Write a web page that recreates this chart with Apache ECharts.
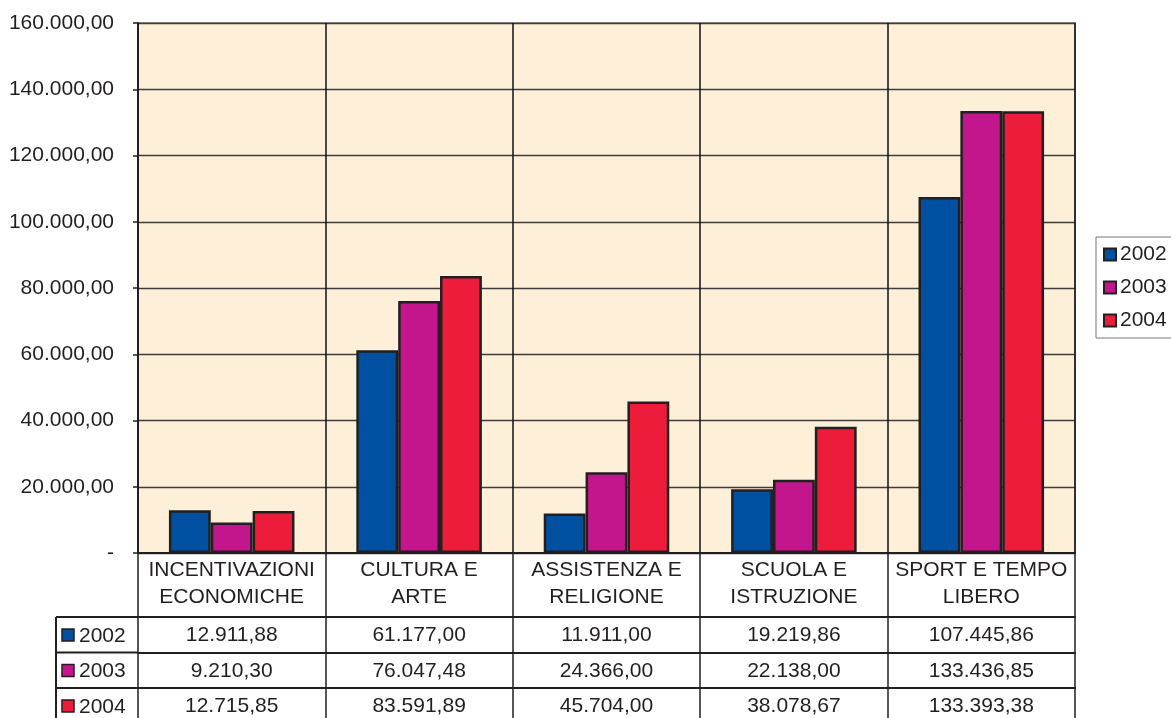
<!DOCTYPE html>
<html>
<head>
<meta charset="utf-8">
<script src="https://cdn.jsdelivr.net/npm/echarts@6/dist/echarts.min.js"></script>
<style>
    html, body {margin: 0; padding: 0; background: #fff;}
    #main {width: 1171px; height: 718px;}
</style>
</head>
<body>
<div id="main"></div>
<script>
// dati del grafico
var categories = ['INCENTIVAZIONI\nECONOMICHE', 'CULTURA E\nARTE', 'ASSISTENZA E\nRELIGIONE', 'SCUOLA E\nISTRUZIONE', 'SPORT E TEMPO\nLIBERO'];
var years = ['2002', '2003', '2004'];
var data2002 = [12911.88, 61177.00, 11911.00, 19219.86, 107445.86];
var data2003 = [9210.30, 76047.48, 24366.00, 22138.00, 133436.85];
var data2004 = [12715.85, 83591.89, 45704.00, 38078.67, 133393.38];
var colors = ['#0050A2', '#C4168C', '#EE1C3B'];

var textColor = '#231F20';
var fontFamily = '"Liberation Sans", Arial, sans-serif';
var fontSize = 21;

// formato italiano 12.911,88
function fmt(v) {
    var parts = v.toFixed(2).split('.');
    parts[0] = parts[0].replace(/\B(?=(\d{3})+(?!\d))/g, '.');
    return parts[0] + ',' + parts[1];
}

var chart = echarts.init(document.getElementById('main'));

var tableRows = [data2002, data2003, data2004];
var rowOffsets = [64, 99.5, 135];

// asse principale con le intestazioni
var xAxes = [{
    type: 'category',
    data: categories,
    position: 'bottom',
    axisLine: {lineStyle: {color: textColor, width: 2}},
    axisTick: {show: true, length: 64, lineStyle: {color: textColor, width: 1.5}},
    axisLabel: {
        interval: 0,
        margin: 4,
        color: textColor,
        fontSize: fontSize,
        lineHeight: 26.5,
        fontFamily: fontFamily,
        align: 'center'
    },
    splitLine: {show: true, lineStyle: {color: '#111', width: 1.5}}
}];

// righe della tabella dati
tableRows.forEach(function (row, i) {
    xAxes.push({
        type: 'category',
        data: categories,
        position: 'bottom',
        offset: rowOffsets[i],
        axisLine: {show: true, lineStyle: {color: textColor, width: 2}},
        axisTick: {show: true, length: 40, lineStyle: {color: textColor, width: 1.5}},
        axisLabel: {
            interval: 0,
            margin: 8,
            color: textColor,
            fontSize: fontSize,
            lineHeight: 21,
            fontFamily: fontFamily,
            formatter: function (v, idx) {
                return fmt(row[idx]);
            }
        },
        splitLine: {show: false}
    });
});

var seriesData = [data2002, data2003, data2004];
var series = years.map(function (y, i) {
    return {
        name: y,
        type: 'bar',
        xAxisIndex: 0,
        data: seriesData[i],
        barGap: '0%',
        barCategoryGap: '33%',
        itemStyle: {color: colors[i], borderColor: textColor, borderWidth: 2.5},
        emphasis: {disabled: true}
    };
});

// colonna sinistra della tabella (legenda anni)
var graphics = [
    {type: 'line', shape: {x1: 56, y1: 617, x2: 56, y2: 718}, style: {stroke: textColor, lineWidth: 2}},
    {type: 'line', shape: {x1: 56, y1: 617, x2: 138, y2: 617}, style: {stroke: textColor, lineWidth: 2}},
    {type: 'line', shape: {x1: 56, y1: 652.5, x2: 138, y2: 652.5}, style: {stroke: textColor, lineWidth: 2}},
    {type: 'line', shape: {x1: 56, y1: 688, x2: 138, y2: 688}, style: {stroke: textColor, lineWidth: 2}}
];
years.forEach(function (y, i) {
    var cy = 635 + i * 35.5;
    graphics.push({
        type: 'rect',
        shape: {x: 62, y: cy - 6, width: 12, height: 12},
        style: {fill: colors[i], stroke: textColor, lineWidth: 1.5}
    });
    graphics.push({
        type: 'text',
        x: 79, y: cy + 1,
        style: {text: y, fill: textColor, font: fontSize + 'px ' + fontFamily, verticalAlign: 'middle'}
    });
});

option = {
    backgroundColor: '#fff',
    animation: false,
    grid: {
        left: 138,
        right: 96,
        top: 23,
        bottom: 165,
        show: true,
        backgroundColor: '#FEEFD9',
        borderColor: '#8f9499',
        borderWidth: 2
    },
    legend: {
        orient: 'vertical',
        left: 1096,
        top: 237,
        padding: [7, 40, 7, 7],
        itemWidth: 12,
        itemHeight: 12,
        itemGap: 12,
        icon: 'rect',
        borderColor: '#777',
        borderWidth: 1,
        data: years,
        textStyle: {color: textColor, fontSize: fontSize, lineHeight: 21, fontFamily: fontFamily, padding: [0, 0, 0, -1]}
    },
    xAxis: xAxes,
    yAxis: {
        type: 'value',
        min: 0,
        max: 160000,
        interval: 20000,
        axisLine: {show: true, lineStyle: {color: textColor, width: 2}},
        axisTick: {show: true, length: 5, lineStyle: {color: textColor, width: 1.5}},
        axisLabel: {
            margin: 24,
            color: textColor,
            fontSize: fontSize,
            fontFamily: fontFamily,
            formatter: function (v) {
                return v === 0 ? '-' : fmt(v);
            }
        },
        splitLine: {show: true, lineStyle: {color: '#3d3d3d', width: 1.3}}
    },
    graphic: graphics,
    series: series
};

chart.setOption(option);
</script>
</body>
</html>
